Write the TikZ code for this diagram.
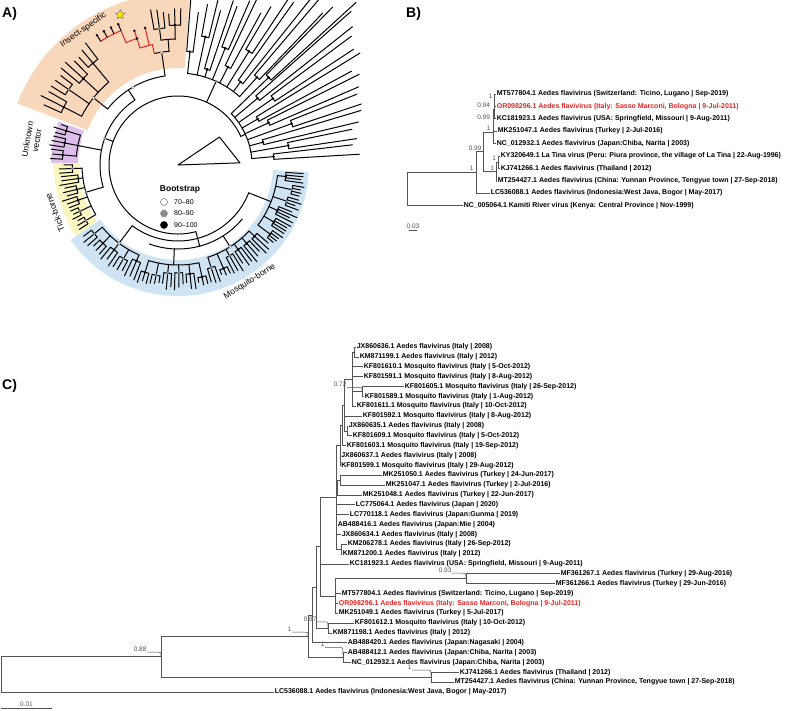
\documentclass[tikz,border=0pt]{standalone}
\usepackage{fontspec}
\setmainfont{Liberation Sans}
\usetikzlibrary{calc,shapes.geometric}

\definecolor{isfbg}{RGB}{249,215,186}
\definecolor{unkbg}{RGB}{222,190,234}
\definecolor{tickbg}{RGB}{250,247,192}
\definecolor{mosqbg}{RGB}{206,228,245}
\definecolor{tipred}{RGB}{236,34,34}
\definecolor{branchgray}{RGB}{85,85,85}

\tikzset{
  treeline/.style={line width=1bp, black, line cap=round},
  redline/.style={treeline, tipred},
  cline/.style={line width=0.6bp, branchgray},
  lead/.style={line width=0.5bp, branchgray},
  leaf/.style={anchor=west, inner sep=0.6bp, font=\fontsize{7bp}{8bp}\selectfont\bfseries},
  leafred/.style={leaf, text=tipred},
  bsl/.style={inner sep=0.4bp, font=\fontsize{6.5bp}{7bp}\selectfont, text=branchgray},
  panel/.style={anchor=west, inner sep=0pt, font=\fontsize{14bp}{16bp}\selectfont\bfseries},
  clade/.style={inner sep=0pt, font=\fontsize{8.5bp}{9.5bp}\selectfont},
  legdot/.style={circle, minimum size=7bp, inner sep=0pt, draw=black!60, line width=0.5bp},
}

% comb of leaves on one arc: a1, a2, base r, leaf r, leaves
\newcommand{\leafcomb}[5]{%
  \draw[treeline] (#1:#3) arc[start angle=#1, end angle=#2, radius=#3];
  \pgfmathtruncatemacro\tnl{#5-1}
  \foreach \k in {0,...,\tnl}{%
    \pgfmathsetmacro\tang{#1+(#2-#1)*\k/\tnl}
    \pgfmathsetmacro\trl{#4+8*rnd-4}
    \draw[treeline] (\tang:#3) -- (\tang:\trl);
  }}

% clade: a1, a2, node r, child r, children, leaves, leaf r, parent r
\newcommand{\subtree}[8]{%
  \pgfmathsetmacro\tw{(#2-#1)/#5}
  \pgfmathsetmacro\tmid{(#1+#2)/2}
  \pgfmathsetmacro\tA{#1+0.5*\tw}
  \pgfmathsetmacro\tB{#2-0.5*\tw}
  \draw[treeline] (\tmid:#8) -- (\tmid:#3);
  \draw[treeline] (\tA:#3) arc[start angle=\tA, end angle=\tB, radius=#3];
  \pgfmathtruncatemacro\tlast{#5-1}
  \foreach \i in {0,...,\tlast}{%
    \pgfmathsetmacro\tci{#1+(\i+0.5)*\tw}
    \pgfmathsetmacro\tri{#4+10*rnd-5}
    \pgfmathsetmacro\tca{\tci-0.35*\tw}
    \pgfmathsetmacro\tcb{\tci+0.35*\tw}
    \draw[treeline] (\tci:#3) -- (\tci:\tri);
    \leafcomb{\tca}{\tcb}{\tri}{#7}{#6}
    \pgfmathtruncatemacro\tdot{rnd<0.2 ? 45 : 100}
    \fill[black!\tdot] (\tci:\tri) circle[radius=1.4];
  }}

% long branches of the upper right fan
\newcommand{\fanleaf}[2]{%
  \pgfmathsetmacro\tfr{min((172+12*rnd)/cos(#1),(152+20*rnd)/sin(#1))}
  \draw[treeline] (#1:#2) -- (#1:\tfr);}
\newcommand{\fanpair}[4]{%
  \pgfmathsetmacro\tfa{#1-#4}
  \pgfmathsetmacro\tfb{#1+#4}
  \draw[treeline] (#1:#2) -- (#1:#3);
  \draw[treeline] (\tfa:#3) arc[start angle=\tfa, end angle=\tfb, radius=#3];
  \fanleaf{\tfa}{#3}\fanleaf{\tfb}{#3}
  \fill (#1:#3) circle[radius=1.4];}

% support value leader
\newcommand{\bsleader}[2]{%
  \draw[lead] (#1.south east) -- ($(#1.south east -| #2)+(-3,0)$) .. controls (#1.south east -| #2) .. (#2);}

\begin{document}
\begin{tikzpicture}[x=1bp, y=-1bp]
\useasboundingbox (0,0) rectangle (785,711);
\fill[white] (0,0) rectangle (785,711);
\pgfmathsetseed{4}

% ---------- A) circular tree ----------
\begin{scope}
\clip (0,0) rectangle (366,330);
\begin{scope}[shift={(178,165)}, yscale=-1]
  % clade shading
  \fill[isfbg] (86:97) arc[start angle=86, end angle=159, radius=97] -- (159:172) arc[start angle=159, end angle=86, radius=172] -- cycle;
  \fill[unkbg] (160:100) arc[start angle=160, end angle=179, radius=100] -- (179:127) arc[start angle=179, end angle=160, radius=127] -- cycle;
  \fill[tickbg] (179:99) arc[start angle=179, end angle=215, radius=99] -- (215:124) arc[start angle=215, end angle=179, radius=124] -- cycle;
  \fill[mosqbg] (215:95) arc[start angle=215, end angle=357, radius=95] -- (357:131) arc[start angle=357, end angle=215, radius=131] -- cycle;

  % collapsed outgroup
  \draw[treeline, line join=round] (0,0) -- (2:62) -- (34:50) -- cycle;

  % backbone
  \draw[treeline] (24.5:69) arc[start angle=24.5, end angle=285, radius=69];
  \draw[treeline] (160:69) -- (160:78);
  \draw[treeline] (123.5:78) arc[start angle=123.5, end angle=196.5, radius=78];
  \draw[treeline] (285:69) -- (285:76);
  \draw[treeline] (233:76) arc[start angle=233, end angle=338.5, radius=76];
  \draw[treeline] (250:84) arc[start angle=250, end angle=320, radius=84];
  \draw[treeline] (285:76) -- (285:84);

  % upper right fan
  \draw[treeline] (24.5:69) -- (24.5:74);
  \draw[treeline] (5:74) arc[start angle=5, end angle=44, radius=74];
  \foreach \a/\r in {5/96, 10/112, 15/88, 20/121, 25/100, 30/92, 35/116, 40/104, 44/126} {
    \fanpair{\a}{74}{\r}{1.6}
  }
  \draw[treeline] (65.5:69) -- (65.5:92);
  \draw[treeline] (48:92) arc[start angle=48, end angle=84, radius=92];
  \foreach \a/\r in {48/118, 53/104, 58/134, 63/110, 68/126, 73/100, 78/131, 84/114} {
    \fanpair{\a}{92}{\r}{1.6}
  }

  % insect-specific
  \draw[treeline] (123.5:78) -- (123.5:90);
  \draw[treeline] (98.25:90) arc[start angle=98.25, end angle=141.5, radius=90];
  \draw[treeline] (98.25:90) -- (98.25:114);
  \draw[treeline] (94.5:114) arc[start angle=94.5, end angle=102, radius=114];
  \subtree{88}{101}{126}{136}{2}{3}{154}{114}
  \subtree{126}{157}{108}{128}{4}{3}{150}{90}
  % red clade
  \draw[redline] (102:114) -- (102:123);
  \draw[redline] (102:123) arc[start angle=102, end angle=108, radius=123];
  \draw[redline] (103.5:123) -- (103.5:141);
  \draw[redline] (108:123) -- (108:133);
  \draw[redline] (108:133) arc[start angle=108, end angle=113, radius=133];
  \draw[redline] (108:133) -- (108:141);
  \draw[redline] (113:133) -- (113:146);
  \draw[redline] (113:146) arc[start angle=113, end angle=122, radius=146];
  \foreach \a in {113,116,119,122} {
    \draw[treeline] (\a:146) -- (\a:153);
    \fill (\a:153) circle[radius=1.4];
  }
  \fill (103.5:141) circle[radius=1.4];
  \fill (108:141) circle[radius=1.4];
  \fill (108:133) circle[radius=1.4];
  \node[star, star points=5, star point ratio=2.1, fill=yellow!90!orange, draw=black!60, line width=0.4bp, minimum size=10bp, inner sep=0pt] (isfstar) at (111:161) {};

  % unknown vector, tick-borne
  \subtree{160}{178}{102}{114}{3}{3}{127}{78}
  \subtree{179}{214}{96}{104}{6}{3}{118}{78}

  % mosquito-borne
  \subtree{216}{250}{98}{108}{5}{3}{120}{76}
  \subtree{250}{285}{100}{110}{6}{3}{122}{84}
  \subtree{285}{320}{97}{108}{6}{3}{121}{84}
  \subtree{320}{357}{100}{112}{6}{4}{126}{76}

  % a few low support nodes
  \foreach \a/\r in {98.25/114, 141.5/108, 120/90, 233/98, 302.5/97} {
    \filldraw[fill=white, draw=black!50, line width=0.4bp] (\a:\r) circle[radius=1.5];
  }
  \foreach \a/\r in {160/78, 65.5/92, 196.5/96} {
    \fill[black!45] (\a:\r) circle[radius=1.5];
  }

  % clade names
  \node[clade, rotate=35] (lisf) at (125:165) {Insect-specific};
  \node[clade, rotate=80, align=center] (lunk) at (170.3:148) {Unknown\\vector};
  \node[clade, rotate=111] (ltick) at (201.2:132) {Tick-borne};
  \node[clade, rotate=32] (lmosq) at (301.6:137) {Mosquito-borne};
\end{scope}
\end{scope}

% bootstrap legend
\node[inner sep=0pt, font=\fontsize{8.5bp}{9bp}\selectfont\bfseries] (bslegend) at (180,189) {Bootstrap};
\node[legdot, fill=white] (bsw) at (164,202) {};
\node[legdot, fill=black!45, draw=black!45] (bsg) at (164,213.5) {};
\node[legdot, fill=black, draw=black] (bsb) at (164,225) {};
\node[anchor=west, inner sep=0pt, font=\fontsize{7bp}{8bp}\selectfont] (bswl) at (174,202) {70--80};
\node[anchor=west, inner sep=0pt, font=\fontsize{7bp}{8bp}\selectfont] (bsgl) at (174,213.5) {80--90};
\node[anchor=west, inner sep=0pt, font=\fontsize{7bp}{8bp}\selectfont] (bsbl) at (174,225) {90--100};

% ---------- B) small tree ----------
\foreach \nm/\xx/\st/\txt [count=\i from 0] in {%
  bmt804/496/leaf/{MT577804.1 Aedes flavivirus (Switzerland: Ticino, Lugano | Sep-2019)},
  bor296/496/leafred/{OR098296.1 Aedes flavivirus (Italy: Sasso Marconi, Bologna | 9-Jul-2011)},
  bkc923/496/leaf/{KC181923.1 Aedes flavivirus (USA: Springfield, Missouri | 9-Aug-2011)},
  bmk047/497/leaf/{MK251047.1 Aedes flavivirus (Turkey | 2-Jul-2016)},
  bnc932/496/leaf/{NC\_012932.1 Aedes flavivirus (Japan:Chiba, Narita | 2003)},
  bky649/500/leaf/{KY320649.1 La Tina virus (Peru: Piura province, the village of La Tina | 22-Aug-1996)},
  bkj266/500/leaf/{KJ741266.1 Aedes flavivirus (Thailand | 2012)},
  bmt427/497/leaf/{MT254427.1 Aedes flavivirus (China: Yunnan Province, Tengyue town | 27-Sep-2018)},
  blc088/490/leaf/{LC536088.1 Aedes flavivirus (Indonesia:West Java, Bogor | May-2017)},
  bnc064/463/leaf/{NC\_005064.1 Kamiti River virus (Kenya: Central Province | Nov-1999)}} {
  \node[\st] (\nm) at (\xx,{94+12.4*\i}) {\txt};
}

\coordinate (bna) at (494.5,100.2);
\coordinate (bnb) at (494,109.5);
\coordinate (bnc) at (493.5,120.35);
\coordinate (bnd) at (493,132);
\coordinate (bne) at (498,162.2);
\coordinate (bnf) at (496,171.5);
\coordinate (bng) at (483,151.75);
\coordinate (bnh) at (476,172.5);
\coordinate (broot) at (407,189.1);
\foreach \p/\c in {bna/bmt804.west, bna/bor296.west, bnb/bna, bnb/bkc923.west,
  bnc/bnb, bnc/bmk047.west, bnd/bnc, bnd/bnc932.west, bne/bky649.west, bne/bkj266.west,
  bnf/bne, bnf/bmt427.west, bng/bnd, bng/bnf, bnh/bng, bnh/blc088.west,
  broot/bnh, broot/bnc064.west} {
  \draw[cline] (\p) |- (\c);
}

\node[bsl, anchor=south east] (bla) at ([xshift=-1.5bp, yshift=1bp]bna) {1};
\node[bsl, anchor=south east] (blb) at ([xshift=-3.5bp, yshift=1bp]bnb) {0.94};
\node[bsl, anchor=south east] (blc) at ([xshift=-3bp, yshift=0.5bp]bnc) {0.99};
\node[bsl, anchor=south east] (bld) at ([xshift=-2bp, yshift=0.5bp]bnd) {1};
\node[bsl, anchor=south east] (ble) at ([xshift=-1.5bp, yshift=1.5bp]bne) {1};
\node[bsl, anchor=south east] (blf) at ([xshift=-1.5bp, yshift=0.5bp]bnf) {1};
\node[bsl, anchor=south east] (blg) at ([xshift=-1bp, yshift=0.5bp]bng) {0.99};
\node[bsl, anchor=south east] (blh) at ([xshift=-2bp, yshift=1bp]bnh) {1};

% scale bar B
\coordinate (bsa) at (409,230);
\coordinate (bsb) at (417,230);
\draw[cline] (bsa) -- (bsb) node[bsl, midway, above=1bp] (bscale) {0.03};

% ---------- C) large tree ----------
\foreach \nm/\xx/\st/\txt [count=\i from 0] in {%
  cjx636/356/leaf/{JX860636.1 Aedes flavivirus (Italy | 2008)},
  ckm199/359/leaf/{KM871199.1 Aedes flavivirus (Italy | 2012)},
  ckf610/363/leaf/{KF801610.1 Mosquito flavivirus (Italy | 5-Oct-2012)},
  ckf591/363/leaf/{KF801591.1 Mosquito flavivirus (Italy | 8-Aug-2012)},
  ckf605/404/leaf/{KF801605.1 Mosquito flavivirus (Italy | 26-Sep-2012)},
  ckf589/364/leaf/{KF801589.1 Mosquito flavivirus (Italy | 1-Aug-2012)},
  ckf611/356/leaf/{KF801611.1 Mosquito flavivirus (Italy | 10-Oct-2012)},
  ckf592/362/leaf/{KF801592.1 Mosquito flavivirus (Italy | 8-Aug-2012)},
  cjx635/348/leaf/{JX860635.1 Aedes flavivirus (Italy | 2008)},
  ckf609/352/leaf/{KF801609.1 Mosquito flavivirus (Italy | 5-Oct-2012)},
  ckf603/346/leaf/{KF801603.1 Mosquito flavivirus (Italy | 19-Sep-2012)},
  cjx637/340.5/leaf/{JX860637.1 Aedes flavivirus (Italy | 2008)},
  ckf599/340.5/leaf/{KF801599.1 Mosquito flavivirus (Italy | 29-Aug-2012)},
  cmk050/382/leaf/{MK251050.1 Aedes flavivirus (Turkey | 24-Jun-2017)},
  cmk047/385/leaf/{MK251047.1 Aedes flavivirus (Turkey | 2-Jul-2016)},
  cmk048/362/leaf/{MK251048.1 Aedes flavivirus (Turkey | 22-Jun-2017)},
  clc064/355/leaf/{LC775064.1 Aedes flavivirus (Japan | 2020)},
  clc118/349/leaf/{LC770118.1 Aedes flavivirus (Japan:Gunma | 2019)},
  cab416/337/leaf/{AB488416.1 Aedes flavivirus (Japan:Mie | 2004)},
  cjx634/341/leaf/{JX860634.1 Aedes flavivirus (Italy | 2008)},
  ckm278/347/leaf/{KM206278.1 Aedes flavivirus (Italy | 26-Sep-2012)},
  ckm200/342/leaf/{KM871200.1 Aedes flavivirus (Italy | 2012)},
  ckc923/349/leaf/{KC181923.1 Aedes flavivirus (USA: Springfield, Missouri | 9-Aug-2011)},
  cmf267/560/leaf/{MF361267.1 Aedes flavivirus (Turkey | 29-Aug-2016)},
  cmf266/555/leaf/{MF361266.1 Aedes flavivirus (Turkey | 29-Jun-2016)},
  cmt804/341/leaf/{MT577804.1 Aedes flavivirus (Switzerland: Ticino, Lugano | Sep-2019)},
  cor296/338/leafred/{OR098296.1 Aedes flavivirus (Italy: Sasso Marconi, Bologna | 9-Jul-2011)},
  cmk049/338/leaf/{MK251049.1 Aedes flavivirus (Turkey | 5-Jul-2017)},
  ckf612/354/leaf/{KF801612.1 Mosquito flavivirus (Italy | 10-Oct-2012)},
  ckm198/332/leaf/{KM871198.1 Aedes flavivirus (Italy | 2012)},
  cab420/347/leaf/{AB488420.1 Aedes flavivirus (Japan:Nagasaki | 2004)},
  cab412/347/leaf/{AB488412.1 Aedes flavivirus (Japan:Chiba, Narita | 2003)},
  cnc932/351/leaf/{NC\_012932.1 Aedes flavivirus (Japan:Chiba, Narita | 2003)},
  ckj266/459/leaf/{KJ741266.1 Aedes flavivirus (Thailand | 2012)},
  cmt427/454/leaf/{MT254427.1 Aedes flavivirus (China: Yunnan Province, Tengyue town | 27-Sep-2018)},
  clc088/274/leaf/{LC536088.1 Aedes flavivirus (Indonesia:West Java, Bogor | May-2017)}} {
  \node[\st] (\nm) at (\xx,{347+9.857*\i}) {\txt};
}

\coordinate (cu1) at (354,351.9);
\coordinate (cu72) at (362,391.4);
\coordinate (cu2) at (352,379);
\coordinate (cu3) at (347,430.8);
\coordinate (cu4) at (344,404.9);
\coordinate (cu6) at (342,425.3);
\coordinate (cu5) at (340,445.3);
\coordinate (cm2) at (340,480.1);
\coordinate (cm) at (337,487.5);
\coordinate (ck) at (341,549.1);
\coordinate (cbig) at (336,497.2);
\coordinate (ct) at (466,578.7);
\coordinate (cs) at (335,595.9);
\coordinate (cw) at (320,546.6);
\coordinate (cn87) at (328,627.9);
\coordinate (cz) at (316,587.2);
\coordinate (cnx) at (312,615);
\coordinate (cn1b) at (343,657.5);
\coordinate (cn1a) at (308,636.2);
\coordinate (cn1c) at (431,677.2);
\coordinate (cn88) at (161,656.6);
\coordinate (croot) at (1,674.3);
\foreach \p/\c in {cu1/cjx636.west, cu1/ckm199.west, cu72/ckf605.west, cu72/ckf589.west,
  cu2/cu1, cu2/ckf610.west, cu2/ckf591.west, cu2/cu72, cu2/ckf611.west,
  cu3/cjx635.west, cu3/ckf609.west, cu4/cu2, cu4/ckf592.west, cu4/cu3,
  cu6/cu4, cu6/ckf603.west, cu5/cu6, cu5/cjx637.west, cu5/ckf599.west,
  cm2/cmk050.west, cm2/cmk047.west, cm/cm2, cm/cmk048.west,
  ck/ckm278.west, ck/ckm200.west,
  cbig/cu5, cbig/cm, cbig/clc064.west, cbig/clc118.west, cbig/cab416.west, cbig/cjx634.west, cbig/ck,
  ct/cmf267.west, ct/cmf266.west,
  cs/ct, cs/cmt804.west, cs/cor296.west, cs/cmk049.west,
  cw/cbig, cw/ckc923.west, cw/cs,
  cn87/ckf612.west, cn87/ckm198.west, cz/cw, cz/cn87, cnx/cz, cnx/cab420.west,
  cn1b/cab412.west, cn1b/cnc932.west, cn1a/cnx, cn1a/cn1b,
  cn1c/ckj266.west, cn1c/cmt427.west, cn88/cn1a, cn88/cn1c,
  croot/cn88, croot/clc088.west} {
  \draw[cline] (\p) |- (\c);
}

% support values with leaders
\node[bsl, anchor=south east] (cb72) at ([xshift=-15bp, yshift=4bp]cu72) {0.72};
\node[bsl, anchor=south east] (cb93) at ([xshift=-14bp, yshift=5.5bp]ct) {0.93};
\node[bsl, anchor=south east] (cb87) at ([xshift=-11bp, yshift=6bp]cn87) {0.87};
\node[bsl, anchor=south east] (cb1a) at ([xshift=-16bp, yshift=4bp]cn1a) {1};
\node[bsl, anchor=south east] (cb1b) at ([xshift=-18bp, yshift=10bp]cn1b) {1};
\node[bsl, anchor=south east] (cb1c) at ([xshift=-19bp, yshift=7bp]cn1c) {1};
\node[bsl, anchor=south east] (cb88) at ([xshift=-14bp, yshift=4.5bp]cn88) {0.88};
\foreach \l/\n in {cb72/cu72, cb93/ct, cb87/cn87, cb1a/cn1a, cb1b/cn1b, cb1c/cn1c, cb88/cn88} {
  \bsleader{\l}{\n}
}

% scale bar C
\coordinate (csa) at (1,708);
\coordinate (csb) at (52,708);
\draw[cline] (csa) -- (csb) node[bsl, midway, above=1bp] (cscale) {0.01};

% panel letters
\node[panel] (pa) at (2,14) {A)};
\node[panel] (pb) at (406,14) {B)};
\node[panel] (pc) at (2,386) {C)};
\end{tikzpicture}
\end{document}
